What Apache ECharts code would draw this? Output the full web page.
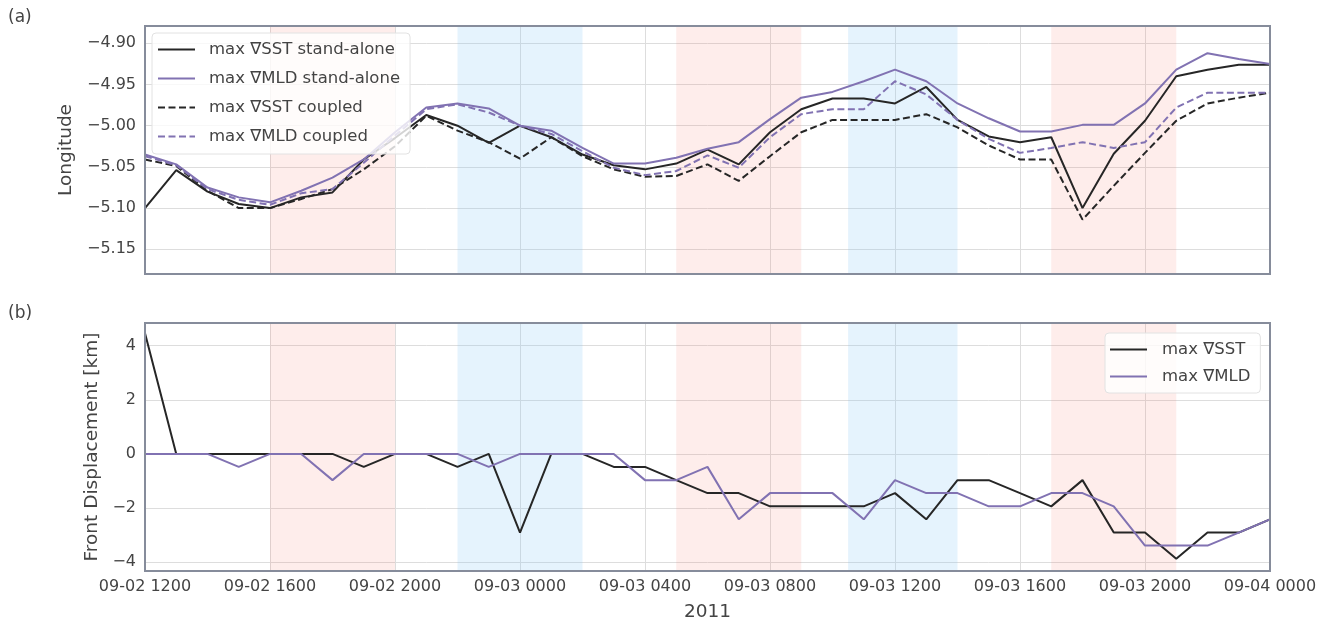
<!DOCTYPE html>
<html>
<head>
<meta charset="utf-8">
<script src="https://cdn.jsdelivr.net/npm/echarts@6/dist/echarts.min.js"></script>
<style>
html, body { margin: 0; padding: 0; background: #ffffff; }
#chart { width: 1333px; height: 624px; }
</style>
</head>
<body>
<div id="chart"></div>
<script>
// Hourly samples, hours since 2011-09-02 12:00
const hours = [0, 1, 2, 3, 4, 5, 6, 7, 8, 9, 10, 11, 12, 13, 14, 15, 16, 17, 18,
  19, 20, 21, 22, 23, 24, 25, 26, 27, 28, 29, 30, 31, 32, 33, 34, 35, 36];

// Tick labels for every 4 hours
const timeTickLabels = ['09-02 1200', '09-02 1600', '09-02 2000', '09-03 0000', '09-03 0400',
  '09-03 0800', '09-03 1200', '09-03 1600', '09-03 2000', '09-04 0000'];

// (a) Longitude of the front
const sstStandAlone = [-5.100, -5.054, -5.080, -5.095, -5.100, -5.087, -5.081, -5.041, -5.015, -4.987,
  -5.000, -5.021, -5.000, -5.014, -5.035, -5.048, -5.053, -5.046, -5.029, -5.047,
  -5.008, -4.980, -4.967, -4.967, -4.973, -4.953, -4.993, -5.013, -5.020, -5.014,
  -5.100, -5.034, -4.994, -4.940, -4.932, -4.926, -4.926];
const mldStandAlone = [-5.035, -5.047, -5.075, -5.087, -5.093, -5.079, -5.063, -5.041, -5.008, -4.978,
  -4.973, -4.979, -5.000, -5.006, -5.027, -5.046, -5.046, -5.039, -5.028, -5.020,
  -4.992, -4.966, -4.959, -4.946, -4.932, -4.946, -4.973, -4.991, -5.007, -5.007,
  -4.999, -4.999, -4.973, -4.932, -4.912, -4.919, -4.925];
const sstCoupled = [-5.041, -5.049, -5.079, -5.100, -5.100, -5.089, -5.077, -5.053, -5.025, -4.988,
  -5.006, -5.020, -5.040, -5.014, -5.037, -5.053, -5.062, -5.061, -5.047, -5.067,
  -5.037, -5.008, -4.993, -4.993, -4.993, -4.986, -5.002, -5.024, -5.041, -5.041,
  -5.114, -5.073, -5.033, -4.994, -4.973, -4.966, -4.960];
const mldCoupled = [-5.037, -5.048, -5.077, -5.090, -5.096, -5.082, -5.077, -5.045, -5.012, -4.980,
  -4.974, -4.984, -5.000, -5.010, -5.031, -5.051, -5.060, -5.055, -5.036, -5.051,
  -5.014, -4.986, -4.980, -4.980, -4.946, -4.962, -4.993, -5.016, -5.033, -5.027,
  -5.020, -5.027, -5.020, -4.978, -4.960, -4.960, -4.960];

// (b) Front displacement [km]
const sstDisplacement = [4.46, 0, 0, 0, 0, 0, 0, -0.48, 0, 0,
  -0.48, 0, -2.91, 0, 0, -0.48, -0.48, -0.97, -1.45, -1.45,
  -1.94, -1.94, -1.94, -1.94, -1.45, -2.42, -0.97, -0.97, -1.45, -1.94,
  -0.97, -2.91, -2.91, -3.88, -2.91, -2.91, -2.42];
const mldDisplacement = [0, 0, 0, -0.48, 0, 0, -0.97, 0, 0, 0,
  0, -0.48, 0, 0, 0, 0, -0.97, -0.97, -0.48, -2.42,
  -1.45, -1.45, -1.45, -2.42, -0.97, -1.45, -1.45, -1.94, -1.94, -1.45,
  -1.45, -1.94, -3.39, -3.39, -3.39, -2.91, -2.42];

// Shaded periods [start, end] in hours
const redSpans = [[4, 8], [17, 21], [29, 33]];
const blueSpans = [[10, 14], [22.5, 26]];

const FONT = 'DejaVu Sans';
const TEXT = '#444444';
const BLACK = '#262626';
const PURPLE = '#8172b2';
const RED_FILL = 'rgba(250, 128, 114, 0.14)';
const BLUE_FILL = 'rgba(135, 200, 245, 0.22)';
const GRID_LINE = '#dddddd';
const FRAME = '#868c9b';

// Panel boxes (pixels)
const PANEL_A = { left: 145, top: 26, width: 1125, height: 248 };
const PANEL_B = { left: 145, top: 323, width: 1125, height: 248 };

// Legend keys: a solid bar and a dashed bar, 37 x 2
const SOLID_KEY = 'path://M0,0h37v2h-37z';
const DASHED_KEY = 'path://M0,0h7v2h-7zM10.5,0h7v2h-7zM21,0h7v2h-7zM31.5,0h5.5v2h-5.5z';

const pairs = (vals) => hours.map((h, i) => [h, vals[i]]);
const minus = (s) => s.replace('-', '\u2212');

function spanAreas() {
  return [
    ...redSpans.map(([a, b]) => [{ xAxis: a, itemStyle: { color: RED_FILL } }, { xAxis: b }]),
    ...blueSpans.map(([a, b]) => [{ xAxis: a, itemStyle: { color: BLUE_FILL } }, { xAxis: b }])
  ];
}

function lineSeries(name, idx, vals, color, dashed, withSpans) {
  const s = {
    name, type: 'line', xAxisIndex: idx, yAxisIndex: idx, data: pairs(vals),
    showSymbol: false, symbol: 'none', silent: true, z: 3,
    lineStyle: { color, width: 2, type: dashed ? [7, 3.5] : 'solid' },
    itemStyle: { color }
  };
  if (withSpans) {
    s.markArea = { silent: true, z: 1, label: { show: false }, data: spanAreas() };
  }
  return s;
}

function xAxisCfg(idx, showLabels) {
  return {
    type: 'value', gridIndex: idx, min: 0, max: 36, interval: 4,
    axisLine: { show: false }, axisTick: { show: false },
    splitLine: { show: true, lineStyle: { color: GRID_LINE, width: 1 } },
    axisLabel: {
      show: showLabels, margin: 8, fontFamily: FONT, fontSize: 16, color: TEXT,
      formatter: (v) => timeTickLabels[Math.round(v / 4)] || ''
    },
    name: showLabels ? '2011' : '', nameLocation: 'middle', nameGap: 32,
    nameTextStyle: { fontFamily: FONT, fontSize: 18.5, color: TEXT }
  };
}

function onStep(v, step) {
  return Math.abs(v / step - Math.round(v / step)) < 1e-6;
}

function legendCfg(left, top, padding, gap, textPad, items) {
  return {
    orient: 'vertical', left, top, padding, itemGap: gap,
    itemWidth: 37, itemHeight: 2, selectedMode: false,
    backgroundColor: 'rgba(255,255,255,0.8)', borderColor: '#e2e2e2', borderWidth: 1, borderRadius: 4,
    textStyle: { fontFamily: FONT, fontSize: 16.5, color: TEXT, padding: [0, 0, 0, textPad] },
    data: items.map(([name, dashed]) => ({ name, icon: dashed ? DASHED_KEY : SOLID_KEY }))
  };
}

// Axes frame drawn above the plotted lines
function frame(p) {
  return {
    type: 'rect', z: 100, silent: true,
    shape: { x: p.left, y: p.top, width: p.width, height: p.height },
    style: { fill: 'none', stroke: FRAME, lineWidth: 2 }
  };
}

const names = ['max \u2207SST stand-alone', 'max \u2207MLD stand-alone', 'max \u2207SST coupled', 'max \u2207MLD coupled'];
const namesB = ['max \u2207SST', 'max \u2207MLD'];

const panelTitle = (text, top) => ({
  text, left: 8, top, padding: 0,
  textStyle: { fontFamily: FONT, fontSize: 17, fontWeight: 'normal', color: TEXT }
});

const option = {
  animation: false,
  backgroundColor: '#ffffff',
  title: [panelTitle('(a)', 9), panelTitle('(b)', 305)],
  legend: [
    legendCfg(152, 33, [8, 10, 9, 6], 12, 9, [[names[0], false], [names[1], false], [names[2], true], [names[3], true]]),
    legendCfg(1105, 333, [8, 10, 8, 5], 10, 10, [[namesB[0], false], [namesB[1], false]])
  ],
  grid: [
    Object.assign({ show: false }, PANEL_A),
    Object.assign({ show: false }, PANEL_B)
  ],
  xAxis: [xAxisCfg(0, false), xAxisCfg(1, true)],
  yAxis: [
    {
      type: 'value', gridIndex: 0, min: -5.18, max: -4.879, splitNumber: 5,
      axisLine: { show: false }, axisTick: { show: false },
      splitLine: { show: true, lineStyle: { color: GRID_LINE, width: 1 } },
      axisLabel: {
        margin: 9, fontFamily: FONT, fontSize: 16, color: TEXT,
        showMinLabel: false, showMaxLabel: false,
        formatter: (v) => onStep(v, 0.05) ? minus(v.toFixed(2)) : ''
      },
      name: 'Longitude', nameLocation: 'middle', nameGap: 64, nameRotate: 90,
      nameTextStyle: { fontFamily: FONT, fontSize: 18.5, color: TEXT }
    },
    {
      type: 'value', gridIndex: 1, min: -4.33, max: 4.84, splitNumber: 5,
      axisLine: { show: false }, axisTick: { show: false },
      splitLine: { show: true, lineStyle: { color: GRID_LINE, width: 1 } },
      axisLabel: {
        margin: 9, fontFamily: FONT, fontSize: 16, color: TEXT,
        showMinLabel: false, showMaxLabel: false,
        formatter: (v) => onStep(v, 2) ? minus(String(Math.round(v))) : ''
      },
      name: 'Front Displacement [km]', nameLocation: 'middle', nameGap: 43, nameRotate: 90,
      nameTextStyle: { fontFamily: FONT, fontSize: 18.5, color: TEXT }
    }
  ],
  series: [
    lineSeries(names[0], 0, sstStandAlone, BLACK, false, true),
    lineSeries(names[1], 0, mldStandAlone, PURPLE, false, false),
    lineSeries(names[2], 0, sstCoupled, BLACK, true, false),
    lineSeries(names[3], 0, mldCoupled, PURPLE, true, false),
    lineSeries(namesB[0], 1, sstDisplacement, BLACK, false, true),
    lineSeries(namesB[1], 1, mldDisplacement, PURPLE, false, false)
  ],
  graphic: [frame(PANEL_A), frame(PANEL_B)]
};

const chart = echarts.init(document.getElementById('chart'), null, { renderer: 'canvas' });
chart.setOption(option);
</script>
</body>
</html>
